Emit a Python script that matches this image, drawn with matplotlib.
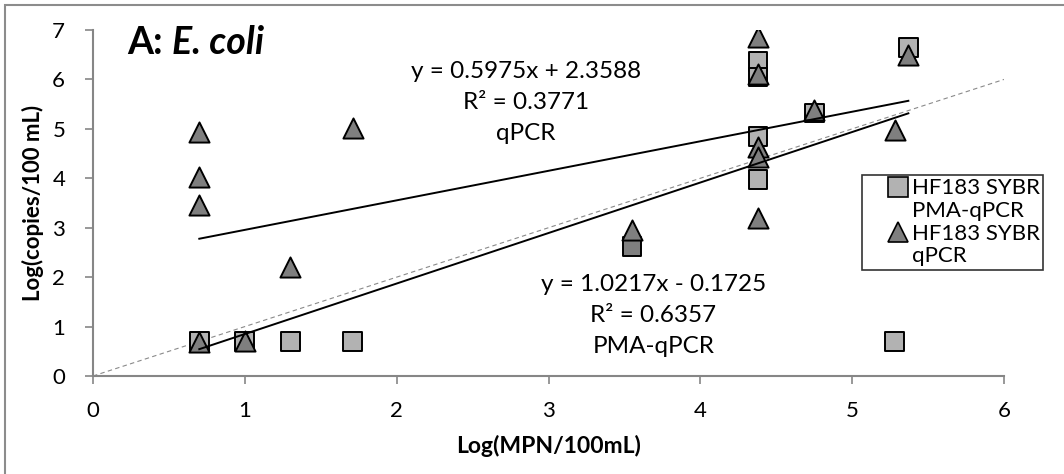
import numpy as np
import matplotlib
matplotlib.use("Agg")
import matplotlib.pyplot as plt
from matplotlib.lines import Line2D
from matplotlib.patches import Rectangle

plt.rcParams['font.family'] = ['Lato', 'DejaVu Sans']

# HF183 SYBR PMA-qPCR (squares)
pma_x = [0.70, 1.00, 1.30, 1.71, 3.55, 4.38, 4.38, 4.38, 4.38, 4.75, 5.28, 5.37]
pma_y = [0.70, 0.70, 0.70, 0.70, 2.62, 6.37, 6.05, 4.84, 3.97, 5.32, 0.70, 6.64]

# HF183 SYBR qPCR (triangles)
qpcr_x = [0.70, 0.70, 0.70, 0.70, 1.00, 1.30, 1.71, 3.55, 4.38, 4.38, 4.38, 4.38, 4.38, 4.75, 5.28, 5.37]
qpcr_y = [4.94, 4.03, 3.46, 0.68, 0.70, 2.21, 5.02, 2.96, 6.86, 6.10, 4.63, 4.43, 3.20, 5.38, 4.98, 6.50]

# linear trendlines (slope, intercept, R^2)
qpcr_fit = (0.5975, 2.3588, 0.3771)
pma_fit = (1.0217, -0.1725, 0.6357)

x_ticks = [0, 1, 2, 3, 4, 5, 6]
y_ticks = [0, 1, 2, 3, 4, 5, 6, 7]

sq_color = '#b2b2b2'
tri_color = '#7f7f7f'
axis_gray = '#868686'

fig = plt.figure(figsize=(10.64, 4.74), dpi=100)
ax = fig.add_axes([93 / 1064, 1 - 376 / 474, 911 / 1064, 346 / 474])

# 1:1 reference line
ax.plot([0, 6], [0, 6], ls=(0, (4, 3)), color='#8a8a8a', lw=0.8, zorder=1)

pma_faces = [sq_color] * len(pma_x)
pma_faces[4] = tri_color
ax.scatter(pma_x, pma_y, marker='s', s=185, c=pma_faces, edgecolors='black',
           linewidths=1.4, zorder=2)
ax.scatter(qpcr_x, qpcr_y, marker='^', s=210, c=tri_color, edgecolors='black',
           linewidths=1.4, zorder=3)

# trendlines over the data range
for xs, (m, b, r2) in [(qpcr_x, qpcr_fit), (pma_x, pma_fit)]:
    xx = np.array([min(xs), max(xs)])
    ax.plot(xx, m * xx + b, color='black', lw=1.4, zorder=4)

ax.text(2.85, 5.53, 'y = %.4fx + %.4f\nR² = %.4f\nqPCR' % qpcr_fit,
        ha='center', va='center', fontsize=17.5, linespacing=1.6)
ax.text(3.69, 1.23, 'y = %.4fx - %.4f\nR² = %.4f\nPMA-qPCR'
        % (pma_fit[0], -pma_fit[1], pma_fit[2]),
        ha='center', va='center', fontsize=17.5, linespacing=1.6)

# panel title, with the organism name in italics
t1 = fig.text(127 / 1064, 1 - 54 / 474, 'A: ', fontsize=27, fontweight='bold',
              ha='left', va='baseline')
fig.canvas.draw()
bb = t1.get_window_extent()
fig.text(bb.x1 / 1064, 1 - 54 / 474, 'E. coli', fontsize=27, fontweight='bold',
         style='italic', ha='left', va='baseline')

ax.set_xlim(0, 6)
ax.set_ylim(0, 7)
ax.set_xticks(x_ticks)
ax.set_yticks(y_ticks)
ax.tick_params(axis='both', direction='out', length=6, width=1.2, color=axis_gray,
               labelsize=16)
ax.tick_params(axis='x', pad=12)
ax.tick_params(axis='y', pad=14)
for side in ['top', 'right']:
    ax.spines[side].set_visible(False)
for side in ['left', 'bottom']:
    ax.spines[side].set_color(axis_gray)
    ax.spines[side].set_linewidth(1.5)

ax.set_xlabel('Log(MPN/100mL)', fontsize=16.5, fontweight='bold', labelpad=10)
ax.set_ylabel('Log(copies/100 mL)', fontsize=16, fontweight='bold', labelpad=6)

handles = [
    Line2D([], [], marker='s', ls='none', markersize=14, markerfacecolor=sq_color,
           markeredgecolor='black', markeredgewidth=1.2),
    Line2D([], [], ls='none'),
    Line2D([], [], marker='^', ls='none', markersize=15, markerfacecolor=tri_color,
           markeredgecolor='black', markeredgewidth=1.2),
    Line2D([], [], ls='none'),
]
labels = ['HF183 SYBR', 'PMA-qPCR', 'HF183 SYBR', 'qPCR']
leg = ax.legend(handles, labels, loc='upper left',
                bbox_to_anchor=(862 / 1064, 1 - 175 / 474), bbox_transform=fig.transFigure,
                fontsize=16, frameon=True, fancybox=False, edgecolor='black',
                handlelength=2.9, handletextpad=-0.8, borderpad=0.15,
                labelspacing=0.12, borderaxespad=0)
leg.get_frame().set_linewidth(1.2)

# outer chart border
fig.patches.append(Rectangle((5 / 1064, -0.1), 2, 1 - 5 / 474 + 0.1,
                             transform=fig.transFigure, fill=False,
                             edgecolor='#8c8c8c', lw=1.5))

fig.savefig('out.png', dpi=100)
